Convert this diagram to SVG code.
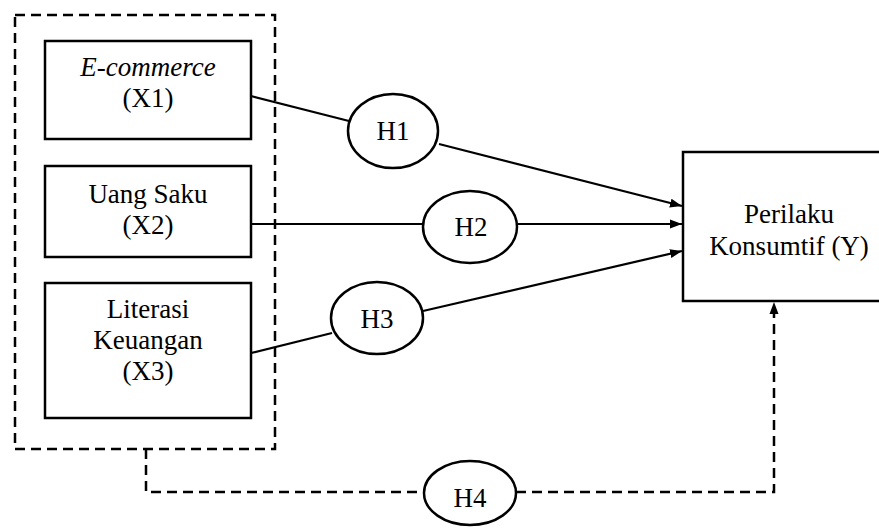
<svg xmlns="http://www.w3.org/2000/svg" width="879" height="529" viewBox="0 0 879 529">
<defs>
<style>
.box{fill:#fff;stroke:#000;stroke-width:2.5}
.ell{fill:#fff;stroke:#000;stroke-width:2.5}
.ln{fill:none;stroke:#000;stroke-width:2.2}
.dash{fill:none;stroke:#000;stroke-width:2.5;stroke-dasharray:10 6}
text{font-family:'Liberation Serif','Times New Roman','DejaVu Serif',serif;font-size:27px;fill:#000;text-anchor:middle}
</style>
<marker id="arr" viewBox="0 0 12 10" refX="12" refY="5" markerWidth="12" markerHeight="10" markerUnits="userSpaceOnUse" orient="auto">
<path d="M0,0.5 L12,5 L0,9.5 Z" fill="#000"/>
</marker>
</defs>
<rect width="879" height="529" fill="#fff"/>
<g id="group-x">
<rect class="dash" x="15" y="15" width="260" height="434" fill="none"/>
</g>
<g id="connectors">
<line class="ln" x1="251" y1="96" x2="349" y2="121"/>
<line class="ln" x1="439" y1="144" x2="682" y2="206" marker-end="url(#arr)"/>
<line class="ln" x1="251" y1="224" x2="423" y2="224"/>
<line class="ln" x1="517" y1="224" x2="682" y2="224" marker-end="url(#arr)"/>
<line class="ln" x1="251" y1="353" x2="332" y2="333"/>
<line class="ln" x1="423" y1="311" x2="682" y2="251" marker-end="url(#arr)"/>
<polyline class="dash" points="146,449 146,492 424,492"/>
<polyline class="dash" points="516,492 774,492 774,302" marker-end="url(#arr)"/>
</g>
<g id="x1">
<rect class="box" x="45" y="41" width="206" height="98"/>
<text x="148" y="76" font-style="italic">E-commerce</text>
<text x="148" y="107">(X1)</text>
</g>
<g id="x2">
<rect class="box" x="45" y="166" width="206" height="91"/>
<text x="148" y="203">Uang Saku</text>
<text x="148" y="234">(X2)</text>
</g>
<g id="x3">
<rect class="box" x="45" y="283" width="206" height="135"/>
<text x="148" y="318">Literasi</text>
<text x="148" y="349">Keuangan</text>
<text x="148" y="380">(X3)</text>
</g>
<g id="y">
<rect class="box" x="683" y="152" width="210" height="149"/>
<text x="789" y="223">Perilaku</text>
<text x="789" y="255">Konsumtif (Y)</text>
</g>
<g id="h1">
<ellipse class="ell" cx="393" cy="131" rx="45" ry="37"/>
<text x="393" y="140">H1</text>
</g>
<g id="h2">
<ellipse class="ell" cx="470" cy="227" rx="47" ry="36"/>
<text x="471" y="236">H2</text>
</g>
<g id="h3">
<ellipse class="ell" cx="377" cy="318" rx="46" ry="36"/>
<text x="377" y="328">H3</text>
</g>
<g id="h4">
<ellipse class="ell" cx="470" cy="493" rx="46" ry="32"/>
<text x="470" y="507">H4</text>
</g>
</svg>
